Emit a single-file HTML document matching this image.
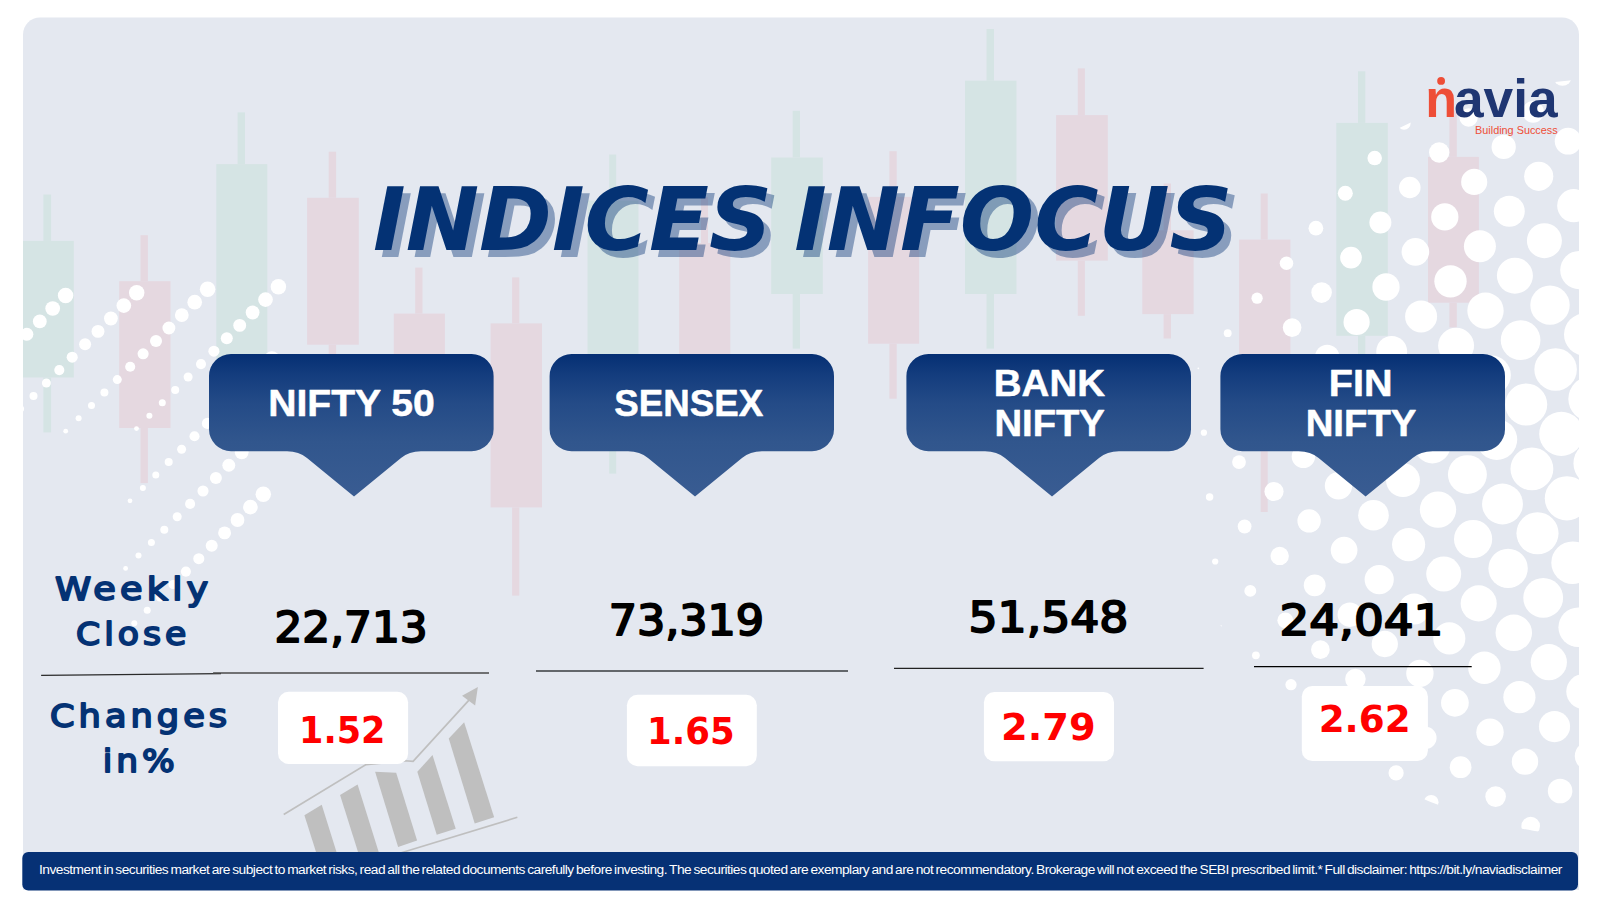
<!DOCTYPE html>
<html lang="en"><head><meta charset="utf-8"><title>Indices Infocus</title>
<style>html,body{margin:0;padding:0;background:#fff}body{width:1600px;height:900px;overflow:hidden}svg{display:block}</style>
</head><body>
<svg width="1600" height="900" viewBox="0 0 1600 900">
<defs>
<clipPath id="panel"><path d="M23 890V34.4a17 17 0 0 1 17-17H1562a17 17 0 0 1 17 17V890Z"/></clipPath>
<clipPath id="ell"><ellipse cx="1620" cy="458" rx="445" ry="380"/></clipPath>
<linearGradient id="tg" x1="0" y1="354" x2="0" y2="496" gradientUnits="userSpaceOnUse"><stop offset="0" stop-color="#052F73"/><stop offset="0.15" stop-color="#143D7E"/><stop offset="0.35" stop-color="#244B87"/><stop offset="0.62" stop-color="#31568D"/><stop offset="1" stop-color="#395C92"/></linearGradient>
</defs>
<path d="M23 890V34.4a17 17 0 0 1 17-17H1562a17 17 0 0 1 17 17V890Z" fill="#E4E8F0"/>
<g clip-path="url(#panel)">
<rect x="22.7" y="240.9" width="51.1" height="136.6" fill="#D5E4E4"/>
<rect x="43.4" y="194.5" width="7.7" height="46.4" fill="#D5E4E4"/>
<rect x="43.4" y="377.5" width="7.7" height="54.9" fill="#D5E4E4"/>
<rect x="119.2" y="281.2" width="51.3" height="146.8" fill="#E5D8E0"/>
<rect x="140.5" y="235.2" width="7.4" height="46.0" fill="#E5D8E0"/>
<rect x="140.5" y="428" width="7.4" height="55.1" fill="#E5D8E0"/>
<rect x="216.3" y="164.1" width="51.0" height="255.9" fill="#D5E4E4"/>
<rect x="237.6" y="112.4" width="7.4" height="51.7" fill="#D5E4E4"/>
<rect x="237.6" y="420" width="7.4" height="20.0" fill="#D5E4E4"/>
<rect x="307.1" y="197.8" width="51.7" height="146.9" fill="#E5D8E0"/>
<rect x="328.7" y="151.7" width="7.4" height="46.1" fill="#E5D8E0"/>
<rect x="328.7" y="344.7" width="7.4" height="55.3" fill="#E5D8E0"/>
<rect x="393.8" y="313.6" width="51.1" height="116.4" fill="#E5D8E0"/>
<rect x="415.2" y="267.6" width="7.3" height="46.0" fill="#E5D8E0"/>
<rect x="415.2" y="430" width="7.3" height="10.0" fill="#E5D8E0"/>
<rect x="490.6" y="323.4" width="51.4" height="184.0" fill="#E5D8E0"/>
<rect x="512.1" y="277.4" width="7.2" height="46.0" fill="#E5D8E0"/>
<rect x="512.1" y="507.4" width="7.2" height="88.2" fill="#E5D8E0"/>
<rect x="587.5" y="200.5" width="51.0" height="219.5" fill="#D5E4E4"/>
<rect x="609.2" y="154.5" width="7.0" height="46.0" fill="#D5E4E4"/>
<rect x="609.2" y="420" width="7.0" height="53.6" fill="#D5E4E4"/>
<rect x="679.2" y="243" width="51.1" height="187.0" fill="#E5D8E0"/>
<rect x="701" y="197" width="7.0" height="46.0" fill="#E5D8E0"/>
<rect x="701" y="430" width="7.0" height="10.0" fill="#E5D8E0"/>
<rect x="771.2" y="157.5" width="51.6" height="136.5" fill="#D5E4E4"/>
<rect x="792.7" y="110.8" width="7.3" height="46.7" fill="#D5E4E4"/>
<rect x="792.7" y="294" width="7.3" height="54.6" fill="#D5E4E4"/>
<rect x="868.1" y="196.9" width="51.0" height="146.8" fill="#E5D8E0"/>
<rect x="889.4" y="151.2" width="7.3" height="45.7" fill="#E5D8E0"/>
<rect x="889.4" y="343.7" width="7.3" height="55.0" fill="#E5D8E0"/>
<rect x="965" y="80.7" width="51.5" height="213.3" fill="#D5E4E4"/>
<rect x="986.5" y="29" width="7.5" height="51.7" fill="#D5E4E4"/>
<rect x="986.5" y="294" width="7.5" height="54.6" fill="#D5E4E4"/>
<rect x="1056.1" y="115.1" width="51.7" height="145.5" fill="#E5D8E0"/>
<rect x="1077.8" y="68.4" width="7.1" height="46.7" fill="#E5D8E0"/>
<rect x="1077.8" y="260.6" width="7.1" height="55.2" fill="#E5D8E0"/>
<rect x="1142.3" y="230.3" width="51.3" height="83.8" fill="#E5D8E0"/>
<rect x="1163.6" y="183.5" width="7.4" height="46.8" fill="#E5D8E0"/>
<rect x="1163.6" y="314.1" width="7.4" height="24.4" fill="#E5D8E0"/>
<rect x="1239.1" y="239.6" width="51.3" height="180.4" fill="#E5D8E0"/>
<rect x="1260.7" y="193.5" width="7.0" height="46.1" fill="#E5D8E0"/>
<rect x="1260.7" y="420" width="7.0" height="92.0" fill="#E5D8E0"/>
<rect x="1336.3" y="122.9" width="51.5" height="212.9" fill="#D5E4E4"/>
<rect x="1358" y="71.3" width="7.3" height="51.6" fill="#D5E4E4"/>
<rect x="1358" y="335.8" width="7.3" height="104.2" fill="#D5E4E4"/>
<rect x="1428" y="156.9" width="50.9" height="145.8" fill="#E5D8E0"/>
<rect x="1449.4" y="110.7" width="7.4" height="46.2" fill="#E5D8E0"/>
<rect x="1449.4" y="302.7" width="7.4" height="24.7" fill="#E5D8E0"/>
<g fill="#fff">
<circle cx="65.6" cy="295.6" r="7.75"/>
<circle cx="52.7" cy="308.5" r="7.35"/>
<circle cx="39.8" cy="321.4" r="6.90"/>
<circle cx="26.9" cy="334.3" r="6.45"/>
<circle cx="14.0" cy="347.2" r="6.00"/>
<circle cx="1.1" cy="360.1" r="5.55"/>
<circle cx="-11.8" cy="373.0" r="5.05"/>
<circle cx="-24.7" cy="385.9" r="4.50"/>
<circle cx="-37.6" cy="398.8" r="4.00"/>
<circle cx="-50.5" cy="411.7" r="3.50"/>
<circle cx="-63.4" cy="424.6" r="3.00"/>
<circle cx="-76.3" cy="437.5" r="2.40"/>
<circle cx="136.7" cy="292.7" r="7.75"/>
<circle cx="123.8" cy="305.6" r="7.35"/>
<circle cx="110.9" cy="318.5" r="6.90"/>
<circle cx="98.0" cy="331.4" r="6.45"/>
<circle cx="85.1" cy="344.3" r="6.00"/>
<circle cx="72.2" cy="357.2" r="5.55"/>
<circle cx="59.3" cy="370.1" r="5.05"/>
<circle cx="46.4" cy="383.0" r="4.50"/>
<circle cx="33.5" cy="395.9" r="4.00"/>
<circle cx="20.6" cy="408.8" r="3.50"/>
<circle cx="7.7" cy="421.7" r="3.00"/>
<circle cx="-5.2" cy="434.6" r="2.40"/>
<circle cx="207.6" cy="289.3" r="7.75"/>
<circle cx="194.7" cy="302.2" r="7.35"/>
<circle cx="181.8" cy="315.1" r="6.90"/>
<circle cx="168.9" cy="328.0" r="6.45"/>
<circle cx="156.0" cy="340.9" r="6.00"/>
<circle cx="143.1" cy="353.8" r="5.55"/>
<circle cx="130.2" cy="366.7" r="5.05"/>
<circle cx="117.3" cy="379.6" r="4.50"/>
<circle cx="104.4" cy="392.5" r="4.00"/>
<circle cx="91.5" cy="405.4" r="3.50"/>
<circle cx="78.6" cy="418.3" r="3.00"/>
<circle cx="65.7" cy="431.2" r="2.40"/>
<circle cx="278.4" cy="286.7" r="7.75"/>
<circle cx="265.5" cy="299.6" r="7.35"/>
<circle cx="252.6" cy="312.5" r="6.90"/>
<circle cx="239.7" cy="325.4" r="6.45"/>
<circle cx="226.8" cy="338.3" r="6.00"/>
<circle cx="213.9" cy="351.2" r="5.55"/>
<circle cx="201.0" cy="364.1" r="5.05"/>
<circle cx="188.1" cy="377.0" r="4.50"/>
<circle cx="175.2" cy="389.9" r="4.00"/>
<circle cx="162.3" cy="402.8" r="3.50"/>
<circle cx="149.4" cy="415.7" r="3.00"/>
<circle cx="136.5" cy="428.6" r="2.40"/>
<circle cx="271.9" cy="358.9" r="7.75"/>
<circle cx="259.0" cy="371.8" r="7.35"/>
<circle cx="246.1" cy="384.7" r="6.90"/>
<circle cx="233.2" cy="397.6" r="6.45"/>
<circle cx="220.3" cy="410.5" r="6.00"/>
<circle cx="207.4" cy="423.4" r="5.55"/>
<circle cx="194.5" cy="436.3" r="5.05"/>
<circle cx="181.6" cy="449.2" r="4.50"/>
<circle cx="168.7" cy="462.1" r="4.00"/>
<circle cx="155.8" cy="475.0" r="3.50"/>
<circle cx="142.9" cy="487.9" r="3.00"/>
<circle cx="130.0" cy="500.8" r="2.40"/>
<circle cx="267.5" cy="426.5" r="7.75"/>
<circle cx="254.6" cy="439.4" r="7.35"/>
<circle cx="241.7" cy="452.3" r="6.90"/>
<circle cx="228.8" cy="465.2" r="6.45"/>
<circle cx="215.9" cy="478.1" r="6.00"/>
<circle cx="203.0" cy="491.0" r="5.55"/>
<circle cx="190.1" cy="503.9" r="5.05"/>
<circle cx="177.2" cy="516.8" r="4.50"/>
<circle cx="164.3" cy="529.7" r="4.00"/>
<circle cx="151.4" cy="542.6" r="3.50"/>
<circle cx="138.5" cy="555.5" r="3.00"/>
<circle cx="125.6" cy="568.4" r="2.40"/>
<circle cx="263.3" cy="494.2" r="7.75"/>
<circle cx="250.4" cy="507.1" r="7.35"/>
<circle cx="237.5" cy="520.0" r="6.90"/>
<circle cx="224.6" cy="532.9" r="6.45"/>
<circle cx="211.7" cy="545.8" r="6.00"/>
<circle cx="198.8" cy="558.7" r="5.55"/>
<circle cx="185.9" cy="571.6" r="5.05"/>
<circle cx="173.0" cy="584.5" r="4.50"/>
<circle cx="160.1" cy="597.4" r="4.00"/>
<circle cx="147.2" cy="610.3" r="3.50"/>
<circle cx="134.3" cy="623.2" r="3.00"/>
<circle cx="121.4" cy="636.1" r="2.40"/>
</g>
<g fill="#fff" clip-path="url(#ell)">
<circle cx="1369.1" cy="93.7" r="0.95"/>
<circle cx="1339.7" cy="128.7" r="2.27"/>
<circle cx="1310.3" cy="163.8" r="2.69"/>
<circle cx="1280.9" cy="198.8" r="2.45"/>
<circle cx="1251.4" cy="233.8" r="2.20"/>
<circle cx="1222.0" cy="268.8" r="1.20"/>
<circle cx="1463.0" cy="53.1" r="3.46"/>
<circle cx="1433.5" cy="88.1" r="5.35"/>
<circle cx="1404.1" cy="123.1" r="6.57"/>
<circle cx="1374.7" cy="158.1" r="7.27"/>
<circle cx="1345.3" cy="193.2" r="7.53"/>
<circle cx="1315.9" cy="228.2" r="7.36"/>
<circle cx="1286.5" cy="263.2" r="6.75"/>
<circle cx="1257.1" cy="298.2" r="5.64"/>
<circle cx="1227.7" cy="333.2" r="3.91"/>
<circle cx="1198.3" cy="368.3" r="0.88"/>
<circle cx="1527.4" cy="47.4" r="5.66"/>
<circle cx="1498.0" cy="82.5" r="7.71"/>
<circle cx="1468.6" cy="117.5" r="9.17"/>
<circle cx="1439.2" cy="152.5" r="10.18"/>
<circle cx="1409.8" cy="187.5" r="10.78"/>
<circle cx="1380.4" cy="222.5" r="10.99"/>
<circle cx="1351.0" cy="257.6" r="10.83"/>
<circle cx="1321.6" cy="292.6" r="10.28"/>
<circle cx="1292.1" cy="327.6" r="9.33"/>
<circle cx="1262.7" cy="362.6" r="7.93"/>
<circle cx="1233.3" cy="397.7" r="5.97"/>
<circle cx="1203.9" cy="432.7" r="3.14"/>
<circle cx="1591.9" cy="41.8" r="6.73"/>
<circle cx="1562.5" cy="76.8" r="9.06"/>
<circle cx="1533.1" cy="111.8" r="10.83"/>
<circle cx="1503.7" cy="146.9" r="12.14"/>
<circle cx="1474.2" cy="181.9" r="13.07"/>
<circle cx="1444.8" cy="216.9" r="13.62"/>
<circle cx="1415.4" cy="251.9" r="13.81"/>
<circle cx="1386.0" cy="287.0" r="13.64"/>
<circle cx="1356.6" cy="322.0" r="13.11"/>
<circle cx="1327.2" cy="357.0" r="12.21"/>
<circle cx="1297.8" cy="392.0" r="10.92"/>
<circle cx="1268.4" cy="427.0" r="9.19"/>
<circle cx="1239.0" cy="462.1" r="6.90"/>
<circle cx="1209.6" cy="497.1" r="3.73"/>
<circle cx="1597.5" cy="106.2" r="11.70"/>
<circle cx="1568.1" cy="141.2" r="13.34"/>
<circle cx="1538.7" cy="176.3" r="14.59"/>
<circle cx="1509.3" cy="211.3" r="15.47"/>
<circle cx="1479.9" cy="246.3" r="16.00"/>
<circle cx="1450.5" cy="281.3" r="16.17"/>
<circle cx="1421.1" cy="316.4" r="15.99"/>
<circle cx="1391.7" cy="351.4" r="15.47"/>
<circle cx="1362.3" cy="386.4" r="14.59"/>
<circle cx="1332.8" cy="421.4" r="13.34"/>
<circle cx="1303.4" cy="456.4" r="11.69"/>
<circle cx="1274.0" cy="491.5" r="9.59"/>
<circle cx="1244.6" cy="526.5" r="6.90"/>
<circle cx="1215.2" cy="561.5" r="3.12"/>
<circle cx="1603.2" cy="170.6" r="15.42"/>
<circle cx="1573.8" cy="205.7" r="16.63"/>
<circle cx="1544.4" cy="240.7" r="17.50"/>
<circle cx="1514.9" cy="275.7" r="18.01"/>
<circle cx="1485.5" cy="310.7" r="18.17"/>
<circle cx="1456.1" cy="345.7" r="17.98"/>
<circle cx="1426.7" cy="380.8" r="17.44"/>
<circle cx="1397.3" cy="415.8" r="16.56"/>
<circle cx="1367.9" cy="450.8" r="15.31"/>
<circle cx="1338.5" cy="485.8" r="13.71"/>
<circle cx="1309.1" cy="520.9" r="11.69"/>
<circle cx="1279.7" cy="555.9" r="9.18"/>
<circle cx="1250.3" cy="590.9" r="5.96"/>
<circle cx="1220.9" cy="625.9" r="0.81"/>
<circle cx="1608.8" cy="235.0" r="18.33"/>
<circle cx="1579.4" cy="270.1" r="19.19"/>
<circle cx="1550.0" cy="305.1" r="19.71"/>
<circle cx="1520.6" cy="340.1" r="19.86"/>
<circle cx="1491.2" cy="375.1" r="19.65"/>
<circle cx="1461.8" cy="410.2" r="19.09"/>
<circle cx="1432.4" cy="445.2" r="18.18"/>
<circle cx="1403.0" cy="480.2" r="16.92"/>
<circle cx="1373.5" cy="515.2" r="15.32"/>
<circle cx="1344.1" cy="550.2" r="13.34"/>
<circle cx="1314.7" cy="585.3" r="10.92"/>
<circle cx="1285.3" cy="620.3" r="7.92"/>
<circle cx="1255.9" cy="655.3" r="3.88"/>
<circle cx="1614.5" cy="299.5" r="20.58"/>
<circle cx="1585.1" cy="334.5" r="21.10"/>
<circle cx="1555.6" cy="369.5" r="21.25"/>
<circle cx="1526.2" cy="404.5" r="21.02"/>
<circle cx="1496.8" cy="439.5" r="20.42"/>
<circle cx="1467.4" cy="474.6" r="19.47"/>
<circle cx="1438.0" cy="509.6" r="18.18"/>
<circle cx="1408.6" cy="544.6" r="16.57"/>
<circle cx="1379.2" cy="579.6" r="14.60"/>
<circle cx="1349.8" cy="614.7" r="12.22"/>
<circle cx="1320.4" cy="649.7" r="9.33"/>
<circle cx="1291.0" cy="684.7" r="5.62"/>
<circle cx="1620.1" cy="363.9" r="22.21"/>
<circle cx="1590.7" cy="398.9" r="22.36"/>
<circle cx="1561.3" cy="433.9" r="22.09"/>
<circle cx="1531.9" cy="468.9" r="21.43"/>
<circle cx="1502.5" cy="504.0" r="20.43"/>
<circle cx="1473.1" cy="539.0" r="19.11"/>
<circle cx="1443.7" cy="574.0" r="17.47"/>
<circle cx="1414.2" cy="609.0" r="15.49"/>
<circle cx="1384.8" cy="644.0" r="13.13"/>
<circle cx="1355.4" cy="679.1" r="10.29"/>
<circle cx="1326.0" cy="714.1" r="6.75"/>
<circle cx="1296.6" cy="749.1" r="1.40"/>
<circle cx="1596.3" cy="463.3" r="22.84"/>
<circle cx="1566.9" cy="498.3" r="22.11"/>
<circle cx="1537.5" cy="533.3" r="21.05"/>
<circle cx="1508.1" cy="568.4" r="19.69"/>
<circle cx="1478.7" cy="603.4" r="18.03"/>
<circle cx="1449.3" cy="638.4" r="16.04"/>
<circle cx="1419.9" cy="673.4" r="13.68"/>
<circle cx="1390.5" cy="708.5" r="10.86"/>
<circle cx="1361.1" cy="743.5" r="7.38"/>
<circle cx="1331.7" cy="778.5" r="2.45"/>
<circle cx="1602.0" cy="527.7" r="22.40"/>
<circle cx="1572.6" cy="562.7" r="21.31"/>
<circle cx="1543.2" cy="597.8" r="19.92"/>
<circle cx="1513.8" cy="632.8" r="18.24"/>
<circle cx="1484.4" cy="667.8" r="16.23"/>
<circle cx="1454.9" cy="702.8" r="13.86"/>
<circle cx="1425.5" cy="737.9" r="11.05"/>
<circle cx="1396.1" cy="772.9" r="7.58"/>
<circle cx="1366.7" cy="807.9" r="2.72"/>
<circle cx="1607.6" cy="592.1" r="21.18"/>
<circle cx="1578.2" cy="627.2" r="19.79"/>
<circle cx="1548.8" cy="662.2" r="18.10"/>
<circle cx="1519.4" cy="697.2" r="16.08"/>
<circle cx="1490.0" cy="732.2" r="13.70"/>
<circle cx="1460.6" cy="767.2" r="10.86"/>
<circle cx="1431.2" cy="802.3" r="7.35"/>
<circle cx="1401.8" cy="837.3" r="2.35"/>
<circle cx="1613.3" cy="656.5" r="19.30"/>
<circle cx="1583.9" cy="691.6" r="17.61"/>
<circle cx="1554.5" cy="726.6" r="15.59"/>
<circle cx="1525.0" cy="761.6" r="13.18"/>
<circle cx="1495.6" cy="796.6" r="10.29"/>
<circle cx="1466.2" cy="831.7" r="6.68"/>
<circle cx="1436.8" cy="866.7" r="1.15"/>
<circle cx="1618.9" cy="721.0" r="16.78"/>
<circle cx="1589.5" cy="756.0" r="14.74"/>
<circle cx="1560.1" cy="791.0" r="12.29"/>
<circle cx="1530.7" cy="826.0" r="9.33"/>
<circle cx="1501.3" cy="861.0" r="5.52"/>
<circle cx="1624.6" cy="785.4" r="13.53"/>
<circle cx="1595.2" cy="820.4" r="11.02"/>
<circle cx="1565.7" cy="855.4" r="7.91"/>
</g>
<svg x="270" y="670" width="260" height="190" viewBox="0 0 1232 900" overflow="visible">
<g fill="#BFBFBF">
<path d="M163 688L245 638L330 910L233 910Z"/>
<path d="M332 592L415 542L530 910L432 910Z"/>
<path d="M498 482L598 487L697 808L607 838Z"/>
<path d="M698 482L770 403L880 752L790 780Z"/>
<path d="M847 325L920 247L1062 698L970 727Z"/>
<path d="M985 80L910 122L972 168Z"/>
</g>
<path d="M65 685L455 448L640 430L678 433L945 140" fill="none" stroke="#BFBFBF" stroke-width="8"/>
<path d="M560 885L1172 698" fill="none" stroke="#BFBFBF" stroke-width="7.5"/>
</svg>
<path d="M41.1 675.3L221 673.6" stroke="#2a2a2a" stroke-width="1.3"/>
<path d="M213.1 673H489" stroke="#4a4a4a" stroke-width="1.5"/>
<path d="M536 670.9H848" stroke="#63676b" stroke-width="2"/>
<path d="M894 668.4H1203.6" stroke="#222" stroke-width="1.2"/>
<path d="M1254 666.5H1471.7" stroke="#000" stroke-width="1.25"/>
<path d="M231 354H471.6A22 22 0 0 1 493.6 376V429.2A22 22 0 0 1 471.6 451.2H421Q409 451.2 401 458.0L354 496.6L307 458.0Q299 451.2 287 451.2H231A22 22 0 0 1 209 429.2V376A22 22 0 0 1 231 354Z" fill="url(#tg)"/>
<path d="M571.6 354H812A22 22 0 0 1 834 376V429.2A22 22 0 0 1 812 451.2H762Q750 451.2 742 458.0L695 496.6L648 458.0Q640 451.2 628 451.2H571.6A22 22 0 0 1 549.6 429.2V376A22 22 0 0 1 571.6 354Z" fill="url(#tg)"/>
<path d="M928.4 354H1169A22 22 0 0 1 1191 376V429.2A22 22 0 0 1 1169 451.2H1119Q1107 451.2 1099 458.0L1052 496.6L1005 458.0Q997 451.2 985 451.2H928.4A22 22 0 0 1 906.4 429.2V376A22 22 0 0 1 928.4 354Z" fill="url(#tg)"/>
<path d="M1242.4 354H1483A22 22 0 0 1 1505 376V429.2A22 22 0 0 1 1483 451.2H1432.6Q1420.6 451.2 1412.6 458.0L1365.6 496.6L1318.6 458.0Q1310.6 451.2 1298.6 451.2H1242.4A22 22 0 0 1 1220.4 429.2V376A22 22 0 0 1 1242.4 354Z" fill="url(#tg)"/>
<rect x="278.0" y="691.8" width="130.1" height="72.1" rx="10.5" fill="#fff"/>
<rect x="626.9" y="694.8" width="129.9" height="71.4" rx="10.5" fill="#fff"/>
<rect x="983.9" y="692.0" width="130.1" height="69.3" rx="10.5" fill="#fff"/>
<rect x="1301.8" y="685.9" width="126.1" height="75.1" rx="10.5" fill="#fff"/>
<text font-family="'DejaVu Sans', 'Liberation Sans', sans-serif" font-size="87.24" font-weight="bold" font-style="italic" fill="#043274" style="filter:drop-shadow(7px 7px 0 rgba(4,50,116,.41))"><tspan x="373.00" y="249.80" textLength="399.18" lengthAdjust="spacingAndGlyphs">INDICES</tspan> <tspan x="794.20" y="249.80" textLength="438.40" lengthAdjust="spacingAndGlyphs">INFOCUS</tspan></text>
<text font-family="'Liberation Sans', sans-serif" font-size="36.34" font-weight="bold" font-style="normal" fill="#fff" stroke="#fff" stroke-width="0.5" stroke-linejoin="round"><tspan x="268.20" y="415.85" textLength="166.54" lengthAdjust="spacingAndGlyphs">NIFTY 50</tspan></text>
<text font-family="'Liberation Sans', sans-serif" font-size="36.34" font-weight="bold" font-style="normal" fill="#fff" stroke="#fff" stroke-width="0.5" stroke-linejoin="round"><tspan x="614.35" y="415.95" textLength="148.84" lengthAdjust="spacingAndGlyphs">SENSEX</tspan></text>
<text font-family="'Liberation Sans', sans-serif" font-size="36.34" font-weight="bold" font-style="normal" fill="#fff" stroke="#fff" stroke-width="0.5" stroke-linejoin="round"><tspan x="993.78" y="395.85" textLength="111.24" lengthAdjust="spacingAndGlyphs">BANK</tspan> <tspan x="994.51" y="436.05" textLength="110.37" lengthAdjust="spacingAndGlyphs">NIFTY</tspan></text>
<text font-family="'Liberation Sans', sans-serif" font-size="36.34" font-weight="bold" font-style="normal" fill="#fff" stroke="#fff" stroke-width="0.5" stroke-linejoin="round"><tspan x="1328.80" y="395.85" textLength="63.78" lengthAdjust="spacingAndGlyphs">FIN</tspan> <tspan x="1305.70" y="435.95" textLength="110.76" lengthAdjust="spacingAndGlyphs">NIFTY</tspan></text>
<text font-family="'DejaVu Sans', 'Liberation Sans', sans-serif" font-size="31.28" font-weight="normal" font-style="normal" fill="#043274" letter-spacing="3.6" stroke="#043274" stroke-width="1.8" stroke-linejoin="round"><tspan x="55.01" y="599.70" textLength="157.47" lengthAdjust="spacingAndGlyphs">Weekly</tspan> <tspan x="76.00" y="644.60" textLength="114.25" lengthAdjust="spacingAndGlyphs">Close</tspan></text>
<text font-family="'DejaVu Sans', 'Liberation Sans', sans-serif" font-size="31.28" font-weight="normal" font-style="normal" fill="#043274" letter-spacing="3.6" stroke="#043274" stroke-width="1.8" stroke-linejoin="round"><tspan x="50.00" y="726.60" textLength="181.21" lengthAdjust="spacingAndGlyphs">Changes</tspan> <tspan x="102.69" y="772.00" textLength="75.80" lengthAdjust="spacingAndGlyphs">in%</tspan></text>
<text font-family="'DejaVu Sans', 'Liberation Sans', sans-serif" font-size="42.25" font-weight="normal" font-style="normal" fill="#000" stroke="#000" stroke-width="1.9" stroke-linejoin="round"><tspan x="274.43" y="641.55" textLength="153.25" lengthAdjust="spacingAndGlyphs">22,713</tspan></text>
<text font-family="'DejaVu Sans', 'Liberation Sans', sans-serif" font-size="42.25" font-weight="normal" font-style="normal" fill="#000" stroke="#000" stroke-width="1.9" stroke-linejoin="round"><tspan x="608.65" y="634.95" textLength="155.47" lengthAdjust="spacingAndGlyphs">73,319</tspan></text>
<text font-family="'DejaVu Sans', 'Liberation Sans', sans-serif" font-size="42.25" font-weight="normal" font-style="normal" fill="#000" stroke="#000" stroke-width="1.9" stroke-linejoin="round"><tspan x="968.54" y="631.65" textLength="159.82" lengthAdjust="spacingAndGlyphs">51,548</tspan></text>
<text font-family="'DejaVu Sans', 'Liberation Sans', sans-serif" font-size="42.25" font-weight="normal" font-style="normal" fill="#000" stroke="#000" stroke-width="1.9" stroke-linejoin="round"><tspan x="1279.54" y="634.85" textLength="163.87" lengthAdjust="spacingAndGlyphs">24,041</tspan></text>
<text font-family="'DejaVu Sans', 'Liberation Sans', sans-serif" font-size="38.13" font-weight="bold" font-style="normal" fill="#FF0000"><tspan x="299.03" y="742.80" textLength="86.41" lengthAdjust="spacingAndGlyphs">1.52</tspan></text>
<text font-family="'DejaVu Sans', 'Liberation Sans', sans-serif" font-size="38.13" font-weight="bold" font-style="normal" fill="#FF0000"><tspan x="647.04" y="743.90" textLength="87.63" lengthAdjust="spacingAndGlyphs">1.65</tspan></text>
<text font-family="'DejaVu Sans', 'Liberation Sans', sans-serif" font-size="38.13" font-weight="bold" font-style="normal" fill="#FF0000"><tspan x="1001.02" y="739.90" textLength="94.63" lengthAdjust="spacingAndGlyphs">2.79</tspan></text>
<text font-family="'DejaVu Sans', 'Liberation Sans', sans-serif" font-size="38.13" font-weight="bold" font-style="normal" fill="#FF0000"><tspan x="1318.64" y="731.95" textLength="91.98" lengthAdjust="spacingAndGlyphs">2.62</tspan></text>
<text y="117" font-family="'Liberation Sans', sans-serif" font-size="54" font-weight="bold"><tspan x="1425.25" textLength="31.85" lengthAdjust="spacingAndGlyphs" fill="#EE4E37">n</tspan><tspan x="1453.92" textLength="103.63" lengthAdjust="spacingAndGlyphs" fill="#1F3672">avia</tspan></text>
<circle cx="1441.1" cy="80.9" r="3.9" fill="#EE4E37"/>
<text x="1475.05" y="133.70" textLength="82.61" lengthAdjust="spacingAndGlyphs" font-family="'Liberation Sans', sans-serif" font-size="11.19" font-weight="normal" font-style="normal" fill="#EE4E37">Building Success</text>
</g>
<rect x="22.3" y="852" width="1555.7" height="38.5" rx="6" fill="#063175"/>
<text x="39.04" y="874.00" textLength="1522.79" lengthAdjust="spacingAndGlyphs" font-family="'Liberation Sans', sans-serif" font-size="13.23" font-weight="normal" font-style="normal" fill="#fff" letter-spacing="-0.5" word-spacing="-1">Investment in securities market are subject to market risks, read all the related documents carefully before investing. The securities quoted are exemplary and are not recommendatory. Brokerage will not exceed the SEBI prescribed limit.* Full disclaimer: https://bit.ly/naviadisclaimer</text>
</svg>
</body></html>
